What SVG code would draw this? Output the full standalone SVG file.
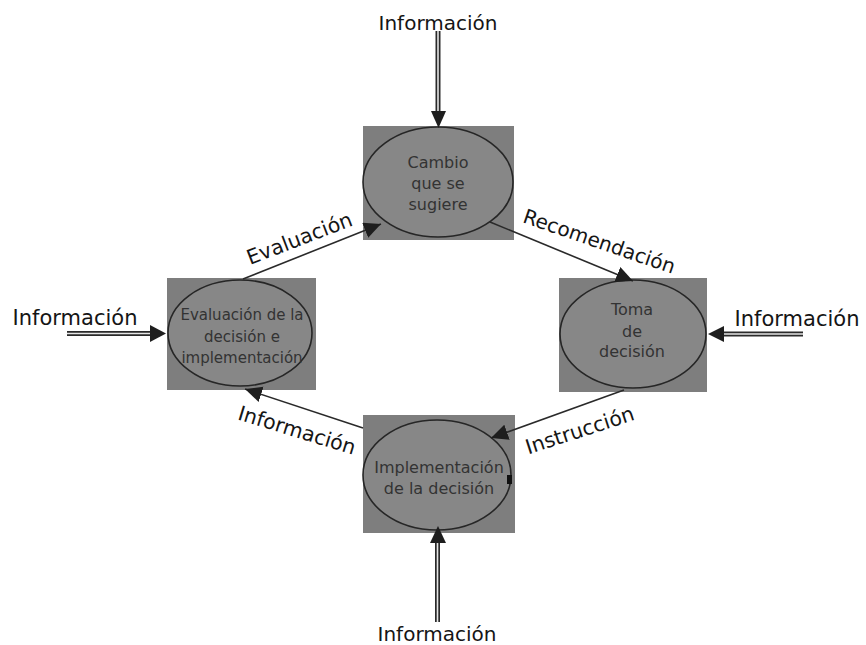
<svg xmlns="http://www.w3.org/2000/svg" width="866" height="645" viewBox="0 0 866 645">
<defs>
<marker id="ah" markerUnits="userSpaceOnUse" markerWidth="20" markerHeight="18" refX="17" refY="8" orient="auto">
<path d="M0,0 L17,8 L0,16 Z" fill="#1e1e1e"/>
</marker>
</defs>
<style>
.box{fill:#7e7e7e;}
.ell{fill:#878787;stroke:#262626;stroke-width:1.6;}
.nt{font-family:"DejaVu Sans","Liberation Sans",sans-serif;font-size:16px;fill:#333333;text-anchor:middle;}
.lb{font-family:"DejaVu Sans","Liberation Sans",sans-serif;font-size:20.5px;fill:#151515;text-anchor:middle;}
.edge{fill:none;stroke:#2a2a2a;stroke-width:1.6;marker-end:url(#ah);}
.dblo{fill:none;stroke:#2a2a2a;stroke-width:5;}
.dbli{fill:none;stroke:#e6e6e6;stroke-width:1.6;}
.head{fill:#1e1e1e;}
</style>
<rect width="866" height="645" fill="#ffffff"/>

<g id="node-cambio">
<rect class="box" x="363" y="126" width="151" height="114"/>
<ellipse class="ell" cx="438" cy="182" rx="75" ry="55"/>
<text class="nt" x="438" y="168">Cambio</text>
<text class="nt" x="438" y="189">que se</text>
<text class="nt" x="438" y="210">sugiere</text>
</g>

<g id="node-evaluacion">
<rect class="box" x="167" y="278" width="149" height="112"/>
<ellipse class="ell" cx="240" cy="333" rx="72" ry="53"/>
<text class="nt" x="242" y="320" style="font-size:15px">Evaluación de la</text>
<text class="nt" x="242" y="342" style="font-size:15px">decisión e</text>
<text class="nt" x="242" y="363" style="font-size:15px">implementación</text>
</g>

<g id="node-toma">
<rect class="box" x="559" y="278" width="148" height="114"/>
<ellipse class="ell" cx="633" cy="334" rx="73" ry="54"/>
<text class="nt" x="632" y="315">Toma</text>
<text class="nt" x="632" y="337">de</text>
<text class="nt" x="632" y="357">decisión</text>
</g>

<g id="node-implementacion">
<rect class="box" x="363" y="415" width="152" height="118"/>
<ellipse class="ell" cx="437" cy="475" rx="74" ry="55"/>
<text class="nt" x="439" y="473">Implementación</text>
<text class="nt" x="439" y="494">de la decisión</text>
<rect x="507" y="475" width="5" height="9" fill="#111111"/>
</g>

<g id="connectors">
<line class="edge" x1="243" y1="279" x2="381" y2="224"/>
<line class="edge" x1="490" y1="222" x2="633" y2="281"/>
<line class="edge" x1="624" y1="390" x2="491" y2="438"/>
<line class="edge" x1="363" y1="428" x2="245" y2="389"/>

<path class="dblo" d="M438,31 V112"/>
<path class="dbli" d="M438,31 V112"/>
<polygon class="head" points="431,111 446,111 438.5,128"/>

<path class="dblo" d="M437.5,622 V542"/>
<path class="dbli" d="M437.5,622 V542"/>
<polygon class="head" points="430,543 446,543 438,526"/>

<path class="dblo" d="M67,333.5 H151"/>
<path class="dbli" d="M67,333.5 H151"/>
<polygon class="head" points="150,325 150,342 166,333.5"/>

<path class="dblo" d="M803,334 H723"/>
<path class="dbli" d="M803,334 H723"/>
<polygon class="head" points="724,326 724,342 708,334"/>
</g>

<g id="labels">
<text class="lb" x="438" y="30" style="font-size:20px">Información</text>
<text class="lb" x="437" y="641" style="font-size:20px">Información</text>
<text class="lb" x="75" y="325" style="font-size:21px">Información</text>
<text class="lb" x="797" y="326" style="font-size:21px">Información</text>
<text class="lb" transform="translate(302,245) rotate(-21)">Evaluación</text>
<text class="lb" transform="translate(597,248) rotate(19)" style="font-size:20px">Recomendación</text>
<text class="lb" transform="translate(582,437) rotate(-18)">Instrucción</text>
<text class="lb" transform="translate(295,437) rotate(17)">Información</text>
</g>
</svg>
